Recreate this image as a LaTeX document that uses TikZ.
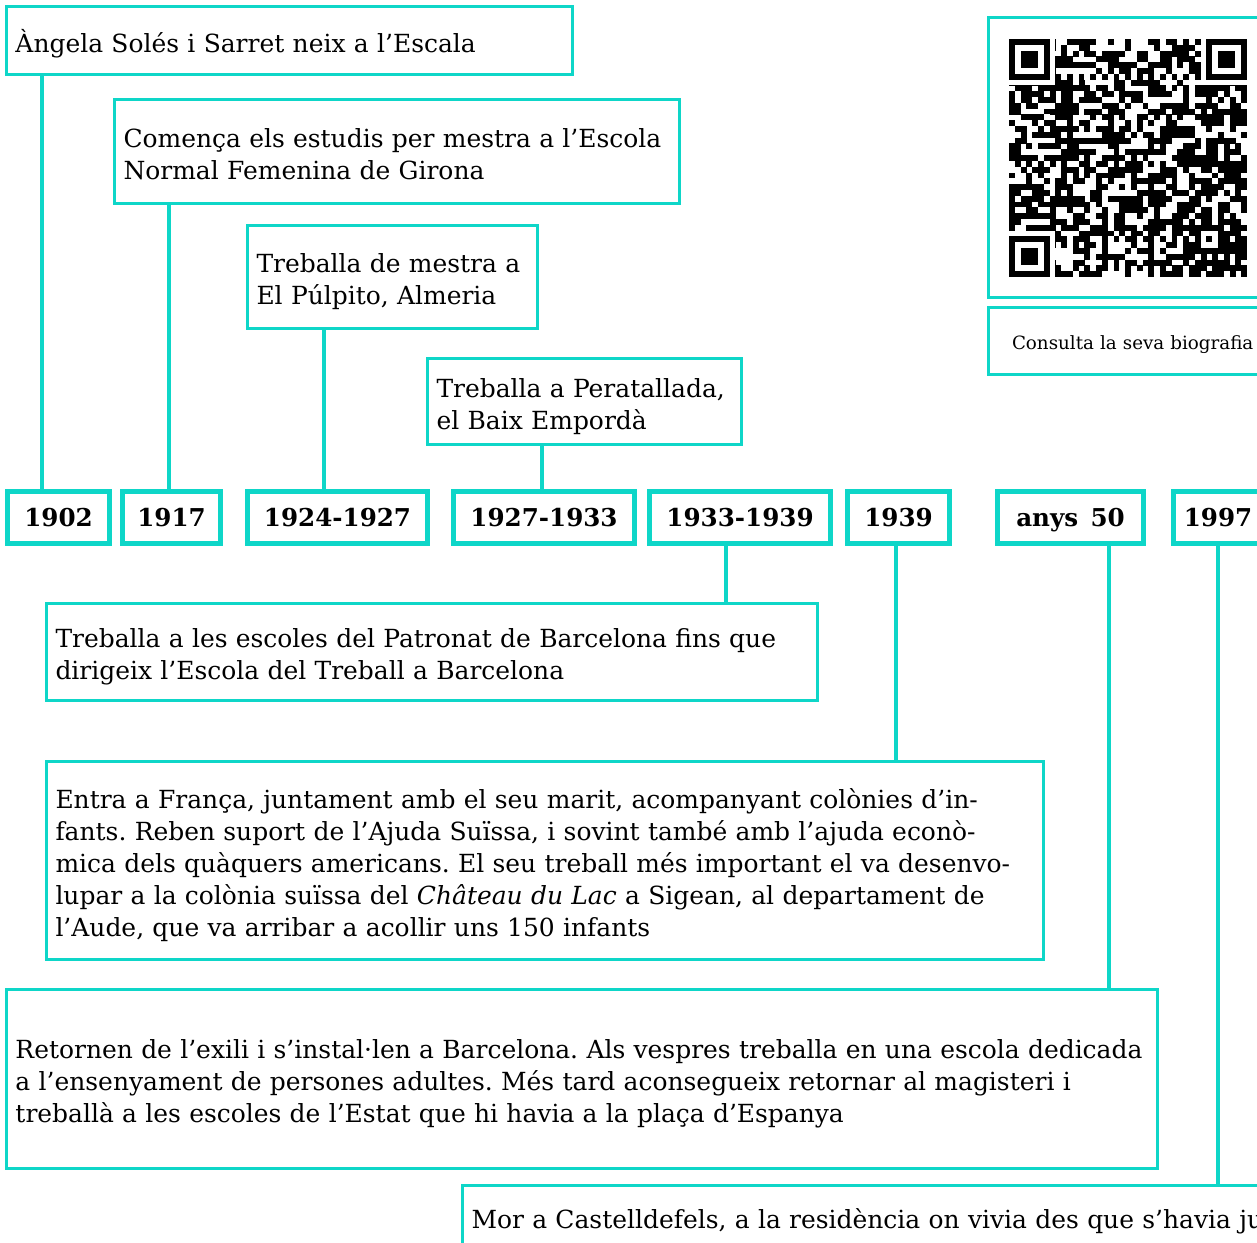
\documentclass[tikz,border=0pt]{standalone}
\usepackage{fontspec}
\setmainfont{DejaVu Serif}
\frenchspacing
\definecolor{turq}{RGB}{14,214,200}
\tikzset{
  evbox/.style={draw=turq, line width=0.06cm, anchor=north west, inner xsep=0.18cm, inner ysep=0pt, align=left, font=\fontsize{14.2}{18.14}\selectfont,
    execute at begin node={\rule{0pt}{1.2em}}, execute at end node={\rule[-0.25em]{0pt}{0pt}}},
  yearbox/.style={draw=turq, line width=0.1cm, anchor=north west, inner sep=0pt, minimum height=1.04cm, text depth=0pt, font=\fontsize{14}{16}\selectfont\bfseries},
  stem/.style={draw=turq, line width=0.09cm},
}
\begin{document}
\begin{tikzpicture}
            \useasboundingbox (0,0) rectangle (25.140000,-24.860000);
            \fill [white] (0,0) rectangle (25.140000,-24.860000);
            \clip (0,0) rectangle (25.140000,-24.860000);

            % Drawing event boxes above the years
            \node [evbox, text width=10.960000cm, minimum height=1.360000cm] (evA) at (0.100000,-0.100000) {Àngela Solés i Sarret neix a l’Escala};%
            \node [evbox, text width=10.940000cm, minimum height=2.080000cm] (evB) at (2.260000,-1.960000) {Comença els estudis per mestra a l’Escola\\Normal Femenina de Girona};%
            \node [evbox, text width=5.440000cm, minimum height=2.060000cm] (evC) at (4.920000,-4.480000) {Treballa de mestra a\\El Púlpito, Almeria};%
            \node [evbox, text width=5.920000cm, minimum height=1.720000cm] (evD) at (8.520000,-7.140000) {Treballa a Peratallada,\\el Baix Empordà};%

            % Drawing year boxes
            \node [yearbox, minimum width=2.040000cm] (y1902) at (0.100000,-9.780000) {1902};%
            \node [yearbox, minimum width=1.960000cm] (y1917) at (2.400000,-9.780000) {1917};%
            \node [yearbox, minimum width=3.600000cm] (y1924) at (4.900000,-9.780000) {1924-1927};%
            \node [yearbox, minimum width=3.620000cm] (y1927) at (9.020000,-9.780000) {1927-1933};%
            \node [yearbox, minimum width=3.620000cm] (y1933) at (12.940000,-9.780000) {1933-1939};%
            \node [yearbox, minimum width=2.040000cm] (y1939) at (16.900000,-9.780000) {1939};%
            \node [yearbox, minimum width=2.920000cm] (y1950) at (19.900000,-9.780000) {anys\enspace 50};%
            \node [yearbox, minimum width=1.780000cm] (y1997) at (23.420000,-9.780000) {1997};%

            % Drawing event boxes below the years
            \node [evbox, text width=15.060000cm, minimum height=1.940000cm] (evE) at (0.900000,-12.040000) {Treballa a les escoles del Patronat de Barcelona fins que\\dirigeix l’Escola del Treball a Barcelona};%
            \node [evbox, text width=19.580000cm, minimum height=3.960000cm] (evF) at (0.900000,-15.200000) {Entra a França, juntament amb el seu marit, acompanyant colònies d’in-\\fants. Reben suport de l’Ajuda Suïssa, i sovint també amb l’ajuda econò-\\mica dels quàquers americans. El seu treball més important el va desenvo-\\lupar a la colònia suïssa del \textit{Château du Lac} a Sigean, al departament de\\l’Aude, que va arribar a acollir uns 150 infants};%
            \node [evbox, text width=22.660000cm, minimum height=3.580000cm] (evG) at (0.100000,-19.760000) {Retornen de l’exili i s’instal·len a Barcelona. Als vespres treballa en una escola dedicada\\a l’ensenyament de persones adultes. Més tard aconsegueix retornar al magisteri i\\treballà a les escoles de l’Estat que hi havia a la plaça d’Espanya};%
            \node [evbox, text width=19.640000cm, minimum height=1.260000cm] (evH) at (9.220000,-23.680000) {Mor a Castelldefels, a la residència on vivia des que s’havia ju};%

            % Drawing QR box and its caption
            \node [evbox, minimum width=6.000000cm, minimum height=5.600000cm, execute at begin node={}, execute at end node={}] (qrbox) at (19.740000,-0.320000) {};%
            \node [evbox, text width=5.060000cm, inner xsep=0.470000cm, minimum height=1.340000cm, font=\fontsize{10.4}{12}\selectfont] (qrcap) at (19.740000,-6.120000) {Consulta la seva biografia};%

            % Drawing QR modules
            \begin{scope}[shift={(20.180000,-0.780000)}, x=0.116100cm, y=-0.116100cm]
              \pgfmathsetseed{1957}
              \foreach \r in {0,...,40} {
                \foreach \c in {0,...,40} {
                  \pgfmathtruncatemacro{\qbit}{rnd<0.56 ? 1 : 0}
                  \ifnum\qbit=1 \fill (\c,\r) rectangle ++(1.02,1.02);\fi
                }
              }
              \fill [white] (0,0) rectangle (8,8);
              \fill [white] (33,0) rectangle (41.1,8);
              \fill [white] (0,33) rectangle (8,41.1);
              \fill [white] (8,6) rectangle (33,7);
              \fill [white] (6,8) rectangle (7,33);
              \foreach \k in {8,10,...,32} {
                \fill (\k,6) rectangle ++(1,1);
                \fill (6,\k) rectangle ++(1,1);
              }
              \foreach \fx/\fy in {0/0,34/0,0/34} {
                \fill (\fx,\fy) rectangle ++(7,7);
                \fill [white] (\fx+1,\fy+1) rectangle ++(5,5);
                \fill (\fx+2,\fy+2) rectangle ++(3,3);
              }
              \fill (32,32) rectangle (37,37);
              \fill [white] (33,33) rectangle (36,36);
              \fill (34,34) rectangle (35,35);
            \end{scope}

            % Marking stem positions
            \coordinate (sA) at (0.840000,0);
            \coordinate (sB) at (3.380000,0);
            \coordinate (sC) at (6.480000,0);
            \coordinate (sD) at (10.840000,0);
            \coordinate (sE) at (14.520000,0);
            \coordinate (sF) at (17.920000,0);
            \coordinate (sG) at (22.180000,0);
            \coordinate (sH) at (24.360000,0);

            % Drawing stems from events to years
            \draw [stem] (evA.south -| sA) -- (y1902.north -| sA);%
            \draw [stem] (evB.south -| sB) -- (y1917.north -| sB);%
            \draw [stem] (evC.south -| sC) -- (y1924.north -| sC);%
            \draw [stem] (evD.south -| sD) -- (y1927.north -| sD);%
            \draw [stem] (y1933.south -| sE) -- (evE.north -| sE);%
            \draw [stem] (y1939.south -| sF) -- (evF.north -| sF);%
            \draw [stem] (y1950.south -| sG) -- (evG.north -| sG);%
            \draw [stem] (y1997.south -| sH) -- (evH.north -| sH);%
        \end{tikzpicture}
\end{document}
